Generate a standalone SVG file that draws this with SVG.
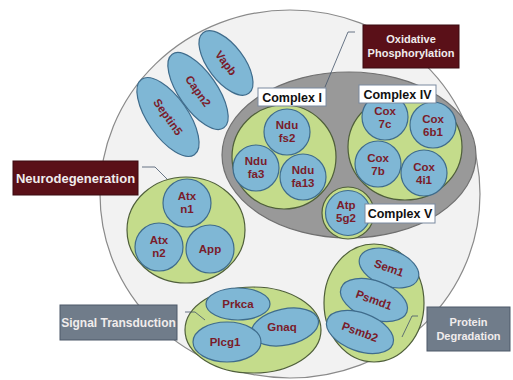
<svg xmlns="http://www.w3.org/2000/svg" width="513" height="380" viewBox="0 0 513 380">
<style>
.blue{fill:#7fb7d5;stroke:#3f6c8c;stroke-width:1.2}
.green{fill:#c4dc8b;stroke:#4f5f3a;stroke-width:1.2}
.nt{font-family:"Liberation Sans",Arial,sans-serif;font-weight:bold;font-size:11.5px;fill:#7a1c2a;text-anchor:middle}
.cl{fill:#ffffff;stroke:#7a8aa0;stroke-width:1}
.ct{font-family:"Liberation Sans",Arial,sans-serif;font-weight:bold;font-size:12.5px;fill:#111;text-anchor:middle}
.red{fill:#5a1018;stroke:#3a0a10;stroke-width:1}
.slate{fill:#707c8a;stroke:#4d5968;stroke-width:1}
.lt{font-family:"Liberation Sans",Arial,sans-serif;font-weight:bold;font-size:11px;fill:#f0ecec;text-anchor:middle}
.conn{fill:none;stroke:#44546a;stroke-width:0.8}
</style>
<rect width="513" height="380" fill="#ffffff"/>
<g id="cell">
<ellipse cx="290" cy="194" rx="190" ry="184" fill="#f2f2f2" stroke="#8a8a8a" stroke-width="1.2"/>
</g>
<g id="vapb">
<ellipse cx="226" cy="63" rx="38" ry="18" transform="rotate(53 226 63)" class="blue"/>
<text x="226" y="67" class="nt" transform="rotate(53 226 63)">Vapb</text>
</g>
<g id="capn2">
<ellipse cx="198" cy="91" rx="45" ry="19" transform="rotate(55 198 91)" class="blue"/>
<text x="198" y="95" class="nt" transform="rotate(55 198 91)">Capn2</text>
</g>
<g id="septin5">
<ellipse cx="168" cy="117" rx="46" ry="20" transform="rotate(55 168 117)" class="blue"/>
<text x="168" y="121" class="nt" transform="rotate(55 168 117)">Septin5</text>
</g>
<g id="oxphos">
<ellipse cx="349" cy="155" rx="127" ry="83" fill="#999999" stroke="#707070" stroke-width="1.2"/>
</g>
<g id="complex1">
<circle cx="284" cy="157" r="52" class="green"/>
<rect x="258" y="88" width="68" height="18" class="cl"/>
<text x="292" y="101.5" class="ct">Complex I</text>
</g>
<g id="ndufs2">
<circle cx="287" cy="132" r="23" class="blue"/>
<text class="nt"><tspan x="287" y="128.5">Ndu</tspan><tspan x="287" y="142">fs2</tspan></text>
</g>
<g id="ndufa3">
<circle cx="256" cy="168" r="23" class="blue"/>
<text class="nt"><tspan x="256" y="164.5">Ndu</tspan><tspan x="256" y="178">fa3</tspan></text>
</g>
<g id="ndufa13">
<circle cx="303" cy="177" r="23" class="blue"/>
<text class="nt"><tspan x="303" y="173.5">Ndu</tspan><tspan x="303" y="187">fa13</tspan></text>
</g>
<g id="complex4">
<ellipse cx="405" cy="147" rx="57" ry="53" class="green"/>
</g>
<g id="cox7c">
<circle cx="385" cy="117" r="23" class="blue"/>
<text class="nt"><tspan x="385" y="114.5">Cox</tspan><tspan x="385" y="128">7c</tspan></text>
</g>
<g id="cox6b1">
<circle cx="433" cy="125" r="23" class="blue"/>
<text class="nt"><tspan x="433" y="122.5">Cox</tspan><tspan x="433" y="136">6b1</tspan></text>
</g>
<g id="cox7b">
<circle cx="378" cy="164" r="23" class="blue"/>
<text class="nt"><tspan x="378" y="161.5">Cox</tspan><tspan x="378" y="175">7b</tspan></text>
</g>
<g id="cox4i1">
<circle cx="424" cy="173" r="23" class="blue"/>
<text class="nt"><tspan x="424" y="170.5">Cox</tspan><tspan x="424" y="184">4i1</tspan></text>
</g>
<g id="complex4label">
<rect x="359" y="85" width="77" height="18" class="cl"/>
<text x="397.5" y="98.5" class="ct">Complex IV</text>
</g>
<g id="atp5g2">
<circle cx="348" cy="213" r="26" class="green"/>
<circle cx="348" cy="213" r="22.5" class="blue"/>
<text class="nt"><tspan x="346" y="208.5">Atp</tspan><tspan x="346" y="222">5g2</tspan></text>
</g>
<g id="complex5label">
<rect x="365" y="204" width="70" height="19" class="cl"/>
<text x="400" y="218" class="ct">Complex V</text>
</g>
<g id="neuro">
<ellipse cx="186" cy="230" rx="59" ry="53" class="green"/>
</g>
<g id="atxn1">
<circle cx="187" cy="203" r="24" class="blue"/>
<text class="nt"><tspan x="187" y="199.5">Atx</tspan><tspan x="187" y="213">n1</tspan></text>
</g>
<g id="atxn2">
<circle cx="159" cy="247" r="24" class="blue"/>
<text class="nt"><tspan x="159" y="243.5">Atx</tspan><tspan x="159" y="257">n2</tspan></text>
</g>
<g id="app">
<circle cx="210" cy="249" r="24" class="blue"/>
<text x="210" y="253" class="nt">App</text>
</g>
<g id="signal">
<ellipse cx="253" cy="330" rx="68" ry="43" class="green"/>
</g>
<g id="prkca">
<ellipse cx="238" cy="304" rx="32" ry="16" class="blue"/>
<text x="238" y="308" class="nt">Prkca</text>
</g>
<g id="gnaq">
<ellipse cx="285" cy="327" rx="34" ry="18" transform="rotate(-12 285 327)" class="blue"/>
<text x="282" y="331" class="nt">Gnaq</text>
</g>
<g id="plcg1">
<ellipse cx="227" cy="342" rx="34" ry="20" class="blue"/>
<text x="225" y="346" class="nt">Plcg1</text>
</g>
<g id="protein">
<ellipse cx="374" cy="303" rx="50" ry="59" class="green"/>
</g>
<g id="sem1">
<ellipse cx="389" cy="268" rx="31" ry="18" transform="rotate(20 389 268)" class="blue"/>
<text x="389" y="272" class="nt" transform="rotate(20 389 268)">Sem1</text>
</g>
<g id="psmd1">
<ellipse cx="374" cy="300" rx="35" ry="19" transform="rotate(20 374 300)" class="blue"/>
<text x="374" y="304" class="nt" transform="rotate(20 374 300)">Psmd1</text>
</g>
<g id="psmb2">
<ellipse cx="360" cy="332" rx="35" ry="19" transform="rotate(20 360 332)" class="blue"/>
<text x="360" y="336" class="nt" transform="rotate(20 360 332)">Psmb2</text>
</g>
<g id="connectors">
<polyline class="conn" points="355,32 348,32 325,87"/>
<polyline class="conn" points="142,167 155,167 167,179"/>
<polyline class="conn" points="185,312 195,312 205,320"/>
<polyline class="conn" points="418,316 412,316 402,337"/>
</g>
<g id="label-oxphos">
<rect x="363" y="25" width="96" height="43" class="red"/>
<text class="lt"><tspan x="411" y="43">Oxidative</tspan><tspan x="411" y="57">Phosphorylation</tspan></text>
</g>
<g id="label-neuro">
<rect x="13" y="161" width="125" height="34" class="red"/>
<text x="75.5" y="182.5" class="lt" style="font-size:13px">Neurodegeneration</text>
</g>
<g id="label-signal">
<rect x="60" y="305" width="117" height="35" class="slate"/>
<text x="118.5" y="326.5" class="lt" style="font-size:12px">Signal Transduction</text>
</g>
<g id="label-protein">
<rect x="427" y="307" width="83" height="44" class="slate"/>
<text class="lt"><tspan x="468.5" y="326">Protein</tspan><tspan x="468.5" y="340">Degradation</tspan></text>
</g>
</svg>
